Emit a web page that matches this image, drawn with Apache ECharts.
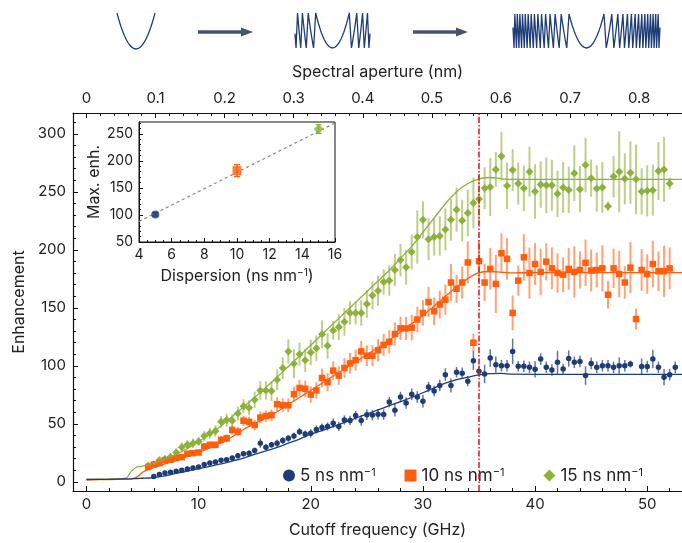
<!DOCTYPE html>
<html><head><meta charset="utf-8">
<script src="https://cdn.jsdelivr.net/npm/echarts@6/dist/echarts.min.js"></script>
<style>html,body{margin:0;padding:0;background:#fff}#c{width:682px;height:543px}</style>
</head><body><div id="c"></div>
<script>
// ---------------- data ----------------
const FREQ = [5.5,6,6.5,7,7.5,8,8.5,9,9.5,10, 10.5,11,11.5,12,12.5,13,13.5,14,14.5,15,
  15.5,16,16.5,17,17.5,18,18.5,19,19.5,20, 20.5,21,21.5,22,22.5,23,23.5,24,24.5,25,
  25.5,26,26.5,27,27.5,28,28.5,29,29.5,30, 30.5,31,31.5,32,32.5,33,33.5,34,34.5,35,
  35.5,36,36.5,37,37.5,38,38.5,39,39.5,40, 40.5,41,41.5,42,42.5,43,43.5,44,44.5,45,
  45.5,46,46.5,47,47.5,48,48.5,49,49.5,50, 50.5,51,51.5,52,52.5];

const BLUE = [null,4.6,6.4,7.7,8.3,9.1,9.9,11.1,12.0,12.8,
  14.9,16.2,17.1,18.5,19.1,20.5,22.5,24.2,24.7,27.0,
  33.3,29.8,31.9,33.3,35.6,37.5,39.5,43.2,41.3,41.8,
  45.1,46.8,47.8,50.6,47.8,53.3,52.9,57.2,52.9,57.8,
  57.5,58.3,58.0,68.8,61.8,73.1,68.0,75.4,73.1,69.5,
  81.7,78.3,83.1,92.4,83.1,94.5,93.5,86.8,104.4,95.3,
  93.0,106.7,101.0,100.1,100.1,112.4,99.6,99.6,98.7,97.0,
  105.8,98.7,96.4,103.0,97.2,106.3,103.0,103.8,91.6,102.1,
  98.7,100.1,100.1,98.7,100.1,100.1,101.5,null,99.3,99.3,
  105.8,98.7,90.2,92.4,98.7];
const BLUE_ERR = [null,1.5,1.5,1.5,1.5,1.5,1.5,1.8,1.8,1.8,
  2,2,2,2,2,2,2.2,2.2,2.5,2.5,
  4,2.5,2.5,3,3,3,3,3,3,3.5,
  3.5,3.5,3.5,4,4,4,4,4,4.5,4.5,
  4.5,4.5,4.5,4.5,5.5,4.5,5,5,5,5.5,
  4.5,4.5,5,5.5,6,4.5,5,4.5,8,5,
  8,7.5,7,5,5,11,4.5,5,5,7,
  5,5,5,10,4.5,7,5,5,8,5,
  5,5,5,5,7,5,3,null,7,5,
  8,5,7,5,5];

const ORANGE = [12.8,14.9,16.2,18.5,19.1,20.5,21.3,24.2,24.7,25.3,
  30.4,31.9,31.9,36.2,37.5,44.7,43.2,52.7,51.7,49.0,
  55.4,56.7,57.5,66.9,66.0,66.0,75.6,80.9,80.2,75.2,
  78.8,89.5,85.9,95.9,91.6,98.1,102.1,104.9,112.4,108.7,
  108.7,113.4,118.0,120.6,127.4,132.3,132.3,132.9,139.9,145.6,
  155.0,147.0,152.8,157.0,171.8,166.4,171.8,189.1,119.9,190.2,
  171.8,183.5,170.6,197.0,192.2,145.6,173.4,193.5,180.0,187.7,
  180.9,189.7,184.0,180.0,178.6,183.5,180.9,182.6,188.8,182.1,
  182.6,184.0,161.3,184.0,179.1,171.8,184.6,140.3,182.6,179.1,
  187.7,181.5,181.5,184.0,null];
const ORANGE_ERR = [2,2,2,2,2,2,2.5,2.5,2.5,2.5,
  3,3,3,3.5,3.5,4,4,4.5,4.5,4.5,
  5,5,5,6,6,6,6.5,7,7,7,
  7,8,8,8,8,8.5,9,9,9,9,
  9,9.5,9.5,10,10,10,10,11,11,11,
  13,12,12,13,16,12,14,18,8,18,
  16,18,25,17,18,15,13,20,22,18,
  20,16,18,17,15,18,22,16,20,18,
  15,20,12,17,20,14,22,9,18,17,
  20,17,22,18,null];

const GREEN = [13.9,14.9,18.5,19.7,21.3,25.3,29.8,31.9,33.3,34.8,
  39.5,41.8,43.8,51.7,53.2,52.7,58.9,65.2,63.9,70.8,
  78.8,78.8,78.3,87.9,98.1,112.4,101.8,110.0,104.7,111.5,
  115.2,127.1,117.2,130.5,133.4,137.9,145.6,145.6,145.6,153.3,
  160.7,164.6,172.3,173.5,182.6,191.1,185.0,198.2,211.0,225.8,
  209.0,211.0,211.9,217.5,225.8,234.6,225.2,231.7,240.3,243.7,
  253.0,254.2,269.3,280.7,255.1,268.7,257.1,253.0,267.3,250.3,
  256.2,255.6,255.6,248.2,253.7,251.6,265.9,252.2,273.0,261.7,
  252.8,253.7,237.5,263.1,267.3,261.2,266.5,260.7,250.3,250.8,
  251.4,267.9,269.3,257.1,null];
const GREEN_ERR = [3,3,3,3,3.5,3.5,4,4,4,4,
  4.5,4.5,5,5,5.5,5.5,6,6,6.5,7,
  8,8,8.5,9,9.5,10.5,12.5,10,10,11,
  11,12,11,8,11,12,10,10,11,12,
  12,13,11,13,14,14,15,15,23,16,
  18,16,17,18,18,19,18,20,22,22,
  18,25,15,21,20,18,18,19.5,21.5,23.5,
  20,24,22,20,22,20,24,20,23.5,16,
  20,22,4,18,35,22,27,30,20,22,
  22,25,28,5,null];

const FIT_FREQ = [0,2,3.5,4,4.5,5,5.5,6,7,8,9,10,11,12,13,14,15,16,17,18,19,20,21,22,23,24,25,26,27,28,29,30,31,32,33,34,35,36,37,38,40,45,50,53.1];
const FIT_BLUE = [2,2.2,2.5,2.6,2.8,3.1,3.3,3.7,5.1,7.2,9.2,11.3,13.3,15.4,17.9,20.5,23.6,26.6,29.7,33.3,36.9,41,44.1,47.6,51.2,54.8,58.4,62,65.6,69.2,72.7,76.8,80.9,85,88.1,90.2,92.2,93.2,93.4,92.8,92.7,92.7,92.7,92.7];
const FIT_ORANGE = [1.8,2,2.3,2.5,4.1,8.2,10.8,12.3,15.4,18.4,22,25.6,29.2,33.8,38.9,45.1,50.2,55.3,60.4,66.6,72.7,78.9,85,91.2,97.3,103.5,109.6,115.8,122.4,129.1,136.3,143.4,151.6,159.8,168,175.2,180.3,181.3,180.6,180.1,180.3,180.3,180.3,180.3];
const FIT_GREEN = [2,2.5,3.1,9.2,12.8,13.5,14.3,15.9,19.5,23.6,28.7,34.8,41,48.2,56.3,64.5,72.7,81.4,90.2,99.4,108.6,117.8,127,136.3,145.5,154.7,163.9,173.1,182.4,192.6,202.9,215.1,227.4,239.7,250,257.1,261.2,262.3,261.2,260.7,260.7,260.7,260.7,260.7];

const CUTOFF_MARK = 35;          // GHz, dash-dot marker
const GHZ_PER_NM = 61.6;         // top-axis conversion
const X_TICKS = [0,10,20,30,40,50];
const X_MINOR = [2,4,6,8,12,14,16,18,22,24,26,28,32,34,36,38,42,44,46,48,52];
const Y_TICKS = [0,50,100,150,200,250,300];
const Y_MINOR = [10,20,30,40,60,70,80,90,110,120,130,140,160,170,180,190,210,220,230,240,260,270,280,290,310];
const AP_TICKS = [0,0.1,0.2,0.3,0.4,0.5,0.6,0.7,0.8];
const AP_LABELS = ['0','0.1','0.2','0.3','0.4','0.5','0.6','0.7','0.8'];
const AP_MINOR = [0.02,0.04,0.06,0.08,0.12,0.14,0.16,0.18,0.22,0.24,0.26,0.28,0.32,0.34,0.36,0.38,0.42,0.44,0.46,0.48,0.52,0.54,0.56,0.58,0.62,0.64,0.66,0.68,0.72,0.74,0.76,0.78,0.82,0.84];

// inset
const INSET_DISP = [5,10,15];
const INSET_MAX = [101,182,259];
const INSET_ERR = [3,11,8];
const INSET_FIT_X = [4,16];
const INSET_FIT_Y = [88,270];
const INSET_Y_TICKS = [50,100,150,200,250];
const INSET_Y_MINOR = [60,70,80,90,110,120,130,140,160,170,180,190,210,220,230,240,260,270];

// legend entries
const LEGEND_NAMES = ['5 ns nm','10 ns nm','15 ns nm'];

// schematic (wrapped quadratic phase), half-extent in units of the first parabola
const SCHEMATIC_EXTENT = [1, 2.1, 3.95];

// ---------------- styling ----------------
const FONT = 'Inter, "Noto Sans", sans-serif';
const TXT = '#222';
const C_BLUE = '#1e3d78', C_ORANGE = '#ff5e0e', C_GREEN = '#8db13b';
const X_MIN = -1.2, X_MAX = 53.1, Y_MIN = -7.9, Y_MAX = 317.9;

function pts(vals){ const o=[]; FREQ.forEach((f,i)=>{ if(vals[i]!=null) o.push([f, vals[i]]); }); return o; }
function errs(vals, e){ const o=[]; FREQ.forEach((f,i)=>{ if(vals[i]!=null) o.push([f, vals[i]-e[i], vals[i]+e[i]]); }); return o; }
function fit(vals){ return FIT_FREQ.map((f,i)=>[f, vals[i]]); }
function barRender(color, width, cap){
  return function(params, api){
    const x = api.value(0);
    const a = api.coord([x, api.value(1)]), b = api.coord([x, api.value(2)]);
    const st = {stroke: color, lineWidth: width};
    const ch = [{type:'line', shape:{x1:a[0],y1:a[1],x2:b[0],y2:b[1]}, style:st}];
    if (cap) {
      ch.push({type:'line', shape:{x1:a[0]-cap,y1:a[1],x2:a[0]+cap,y2:a[1]}, style:st});
      ch.push({type:'line', shape:{x1:b[0]-cap,y1:b[1],x2:b[0]+cap,y2:b[1]}, style:st});
    }
    return {type:'group', children: ch};
  };
}
// wrapped parabola: each 2π wrap drawn as a short slanted drop
function wrapped(ext){
  const dAt = j => Math.min(0.12, 0.35*(Math.sqrt(j+1)-Math.sqrt(j)));
  const half = [];
  for (let k=0;;k++){
    const a = Math.sqrt(k); if (a >= ext) break;
    const bTrue = Math.sqrt(k+1), b = Math.min(bTrue, ext);
    const a0 = k===0 ? 0 : a + dAt(k)/2;
    const b0 = bTrue < ext ? b - dAt(k+1)/2 : b;
    const n = 24;
    for (let i=0; i<=n; i++){ const t=i/n; const xt=a+(b-a)*t; half.push([a0+(b0-a0)*t, xt*xt-k]); }
  }
  const neg = half.slice(1).reverse().map(p=>[-p[0], p[1]]);
  return neg.concat(half);
}
const rich = {
  a:{fontFamily:FONT, fontSize:16, color:TXT},
  s:{fontFamily:FONT, fontSize:10, color:TXT, verticalAlign:'top'}
};
const richL = {
  a:{fontFamily:FONT, fontSize:17, color:TXT},
  s:{fontFamily:FONT, fontSize:11, color:TXT, verticalAlign:'top'}
};

const grids = [
  {left:73, right:0, top:113, bottom:48},
  {left:139, top:122, width:196, height:120, show:true, backgroundColor:'#fff', borderColor:'#111', borderWidth:1},
  {left:117, top:13, width:38, height:36},
  {left:295, top:13, width:75, height:35},
  {left:513, top:14, width:147, height:34}
];

const axLine = {show:true, onZero:false, lineStyle:{color:'#111', width:1.2}};
const xAxes = [
  {type:'value', gridIndex:0, min:X_MIN, max:X_MAX, position:'bottom', axisLine:axLine,
   axisTick:{inside:true, length:5, customValues:X_TICKS, lineStyle:{color:'#111'}},
   axisLabel:{customValues:X_TICKS, fontFamily:FONT, fontSize:15, color:TXT, margin:6},
   splitLine:{show:false}, name:'Cutoff frequency (GHz)', nameLocation:'middle', nameGap:31,
   nameTextStyle:{fontFamily:FONT, fontSize:16, color:TXT}},
  {type:'value', gridIndex:0, min:X_MIN, max:X_MAX, position:'bottom', axisLine:{show:false, onZero:false},
   axisTick:{inside:true, length:3, customValues:X_MINOR, lineStyle:{color:'#111'}},
   axisLabel:{show:false}, splitLine:{show:false}},
  {type:'value', gridIndex:0, min:X_MIN/GHZ_PER_NM, max:X_MAX/GHZ_PER_NM, position:'top', axisLine:axLine,
   axisTick:{inside:true, length:5, customValues:AP_TICKS, lineStyle:{color:'#111'}},
   axisLabel:{customValues:AP_TICKS, formatter:v=>AP_LABELS[AP_TICKS.findIndex(t=>Math.abs(t-v)<1e-6)] ?? '', fontFamily:FONT, fontSize:15, color:TXT, margin:7},
   splitLine:{show:false}, name:'Spectral aperture (nm)', nameLocation:'middle', nameGap:33,
   nameTextStyle:{fontFamily:FONT, fontSize:16, color:TXT}},
  {type:'value', gridIndex:0, min:X_MIN/GHZ_PER_NM, max:X_MAX/GHZ_PER_NM, position:'top', axisLine:{show:false, onZero:false},
   axisTick:{inside:true, length:3, customValues:AP_MINOR, lineStyle:{color:'#111'}},
   axisLabel:{show:false}, splitLine:{show:false}},
  {type:'value', gridIndex:1, min:4, max:16, interval:2, position:'bottom', axisLine:{show:true, onZero:false, lineStyle:{color:'#111', width:1}},
   axisTick:{inside:true, length:4, lineStyle:{color:'#111'}},
   minorTick:{show:true, splitNumber:4, length:2, lineStyle:{color:'#111'}},
   axisLabel:{fontFamily:FONT, fontSize:14, color:TXT, margin:6},
   splitLine:{show:false}, minorSplitLine:{show:false},
   name:'{a|Dispersion (ns nm}{s|−1}{a|)}', nameLocation:'middle', nameGap:26,
   nameTextStyle:{fontFamily:FONT, fontSize:16, color:TXT, rich:rich}},
  {type:'value', gridIndex:2, min:-SCHEMATIC_EXTENT[0], max:SCHEMATIC_EXTENT[0], show:false},
  {type:'value', gridIndex:3, min:-SCHEMATIC_EXTENT[1], max:SCHEMATIC_EXTENT[1], show:false},
  {type:'value', gridIndex:4, min:-SCHEMATIC_EXTENT[2], max:SCHEMATIC_EXTENT[2], show:false}
];
const yAxes = [
  {type:'value', gridIndex:0, min:Y_MIN, max:Y_MAX, position:'left', axisLine:axLine,
   axisTick:{inside:true, length:5, customValues:Y_TICKS, lineStyle:{color:'#111'}},
   axisLabel:{customValues:Y_TICKS, fontFamily:FONT, fontSize:15, color:TXT, margin:7},
   splitLine:{show:false}, name:'Enhancement', nameLocation:'middle', nameGap:43,
   nameTextStyle:{fontFamily:FONT, fontSize:16, color:TXT}},
  {type:'value', gridIndex:0, min:Y_MIN, max:Y_MAX, position:'left', axisLine:{show:false, onZero:false},
   axisTick:{inside:true, length:3, customValues:Y_MINOR, lineStyle:{color:'#111'}},
   axisLabel:{show:false}, splitLine:{show:false}},
  {type:'value', gridIndex:1, min:50, max:272, position:'left', axisLine:{show:true, onZero:false, lineStyle:{color:'#111', width:1}},
   axisTick:{inside:true, length:4, customValues:INSET_Y_TICKS, lineStyle:{color:'#111'}},
   axisLabel:{customValues:INSET_Y_TICKS, fontFamily:FONT, fontSize:14, color:TXT, margin:6},
   splitLine:{show:false}, name:'Max. enh.', nameLocation:'middle', nameGap:37,
   nameTextStyle:{fontFamily:FONT, fontSize:16, color:TXT}},
  {type:'value', gridIndex:1, min:50, max:272, position:'left', axisLine:{show:false, onZero:false},
   axisTick:{inside:true, length:2, customValues:INSET_Y_MINOR, lineStyle:{color:'#111'}},
   axisLabel:{show:false}, splitLine:{show:false}},
  {type:'value', gridIndex:2, min:0, max:1, show:false},
  {type:'value', gridIndex:3, min:0, max:1, show:false},
  {type:'value', gridIndex:4, min:0, max:1, show:false}
];

const series = [];
[[GREEN,GREEN_ERR,'rgba(141,177,59,0.6)',2],[ORANGE,ORANGE_ERR,'rgba(255,100,30,0.6)',2],[BLUE,BLUE_ERR,'rgba(30,61,120,0.7)',1.5]]
.forEach(([v,e,c,w])=>series.push({type:'custom', xAxisIndex:0, yAxisIndex:0, renderItem:barRender(c,w,0),
  data:errs(v,e), encode:{x:0, y:[1,2]}, clip:true, silent:true, z:2}));
series.push({name:LEGEND_NAMES[2], type:'scatter', xAxisIndex:0, yAxisIndex:0, data:pts(GREEN), symbol:'diamond', symbolSize:8, itemStyle:{color:C_GREEN, opacity:1}, z:3});
series.push({name:LEGEND_NAMES[1], type:'scatter', xAxisIndex:0, yAxisIndex:0, data:pts(ORANGE), symbol:'rect', symbolSize:6.5, itemStyle:{color:C_ORANGE, opacity:1}, z:3});
series.push({name:LEGEND_NAMES[0], type:'scatter', xAxisIndex:0, yAxisIndex:0, data:pts(BLUE), symbol:'circle', symbolSize:5.5, itemStyle:{color:C_BLUE, opacity:1}, z:3,
  markLine:{silent:true, symbol:['none','none'], label:{show:false}, animation:false,
    lineStyle:{color:'#e5121b', width:1.5, type:[6,2,1.5,2]}, data:[{xAxis:CUTOFF_MARK}]}});
[[FIT_GREEN,C_GREEN],[FIT_ORANGE,C_ORANGE],[FIT_BLUE,C_BLUE]].forEach(([v,c])=>series.push({type:'line', xAxisIndex:0, yAxisIndex:0,
  data:fit(v), showSymbol:false, smooth:0.3, lineStyle:{color:c, width:1.3}, silent:true, z:4}));

// inset
series.push({type:'line', xAxisIndex:4, yAxisIndex:2, data:INSET_FIT_X.map((x,i)=>[x,INSET_FIT_Y[i]]), showSymbol:false,
  lineStyle:{color:'#888', width:1.2, type:[3,3]}, silent:true, z:3});
const INSET_COLORS = [C_BLUE, C_ORANGE, C_GREEN];
const INSET_SYMBOLS = ['circle','rect','diamond'];
const INSET_SIZES = [8,9,10];
INSET_DISP.forEach((d,i)=>{
  series.push({type:'custom', xAxisIndex:4, yAxisIndex:2, renderItem:barRender(INSET_COLORS[i],1.3,3),
    data:[[d, INSET_MAX[i]-INSET_ERR[i], INSET_MAX[i]+INSET_ERR[i]]], encode:{x:0,y:[1,2]}, silent:true, z:4});
  series.push({type:'scatter', xAxisIndex:4, yAxisIndex:2, data:[[d, INSET_MAX[i]]], symbol:INSET_SYMBOLS[i],
    symbolSize:INSET_SIZES[i], itemStyle:{color:INSET_COLORS[i]}, silent:true, z:5});
});

// schematic
SCHEMATIC_EXTENT.forEach((ext,i)=>series.push({type:'line', xAxisIndex:5+i, yAxisIndex:4+i, data:wrapped(ext),
  showSymbol:false, lineStyle:{color:'#1e3d78', width:1.3}, silent:true, clip:false}));

const LEGEND_LEFT = [283, 404.5, 543.4];
const LEGEND_ICONS = ['circle','rect','diamond'];
const legends = LEGEND_NAMES.map((n,i)=>({left:LEGEND_LEFT[i], top:467, padding:0, itemWidth:12, itemHeight:12, itemGap:0,
  selectedMode:false, data:[{name:n, icon:LEGEND_ICONS[i]}], formatter:nm=>`{a|${nm}}{s|−1}`,
  textStyle:{fontFamily:FONT, fontSize:17, color:TXT, rich:richL}}));

const ARROW = '#46546b';
const option = {
  animation:false,
  backgroundColor:'#fff',
  grid:grids, xAxis:xAxes, yAxis:yAxes, series:series,
  legend:legends,
  graphic:[
    {type:'line', shape:{x1:198,y1:32,x2:243,y2:32}, style:{stroke:ARROW, lineWidth:3.5}},
    {type:'polygon', shape:{points:[[241,27.5],[253,32],[241,36.5]]}, style:{fill:ARROW}},
    {type:'line', shape:{x1:413,y1:32,x2:458,y2:32}, style:{stroke:ARROW, lineWidth:3.5}},
    {type:'polygon', shape:{points:[[456,27.5],[468,32],[456,36.5]]}, style:{fill:ARROW}}
  ]
};
echarts.init(document.getElementById('c'), null, {renderer:'canvas'}).setOption(option);
</script></body></html>
